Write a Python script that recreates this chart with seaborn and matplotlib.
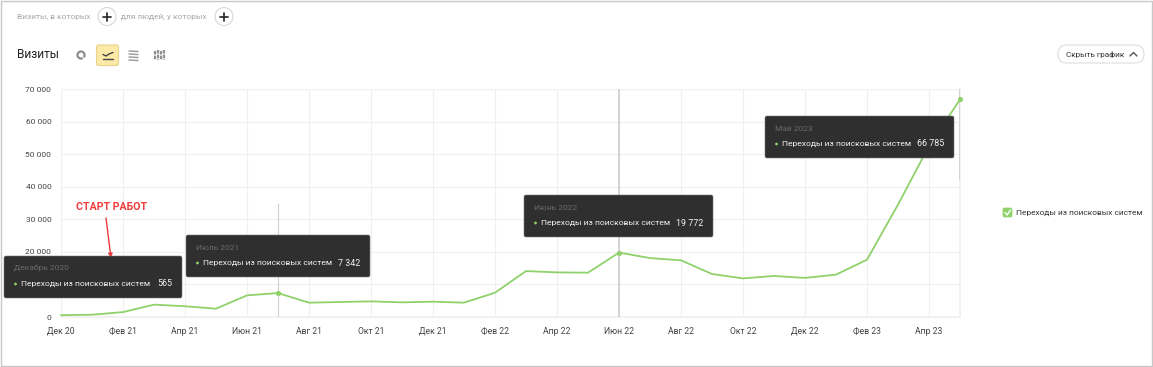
import matplotlib
matplotlib.use("Agg")
import matplotlib.pyplot as plt
import pandas as pd
import seaborn as sns
from matplotlib.patches import Circle, FancyArrowPatch, FancyBboxPatch, Rectangle, Wedge

months = ["Дек 20", "Янв 21", "Фев 21", "Мар 21", "Апр 21", "Май 21", "Июн 21", "Июл 21", "Авг 21", "Сен 21",
          "Окт 21", "Ноя 21", "Дек 21", "Янв 22", "Фев 22", "Мар 22", "Апр 22", "Май 22", "Июн 22", "Июл 22",
          "Авг 22", "Сен 22", "Окт 22", "Ноя 22", "Дек 22", "Янв 23", "Фев 23", "Мар 23", "Апр 23", "Май 23"]
visits = [565, 700, 1500, 3800, 3300, 2550, 6650, 7342, 4400, 4600,
          4800, 4500, 4700, 4400, 7450, 14100, 13700, 13600, 19772, 18100,
          17400, 13200, 11850, 12600, 12000, 13000, 17600, 34500, 52500, 66785]
y_ticks = [0, 10000, 20000, 30000, 40000, 50000, 60000, 70000]

series_name = "Переходы из поисковых систем"
tip_titles = ["Декабрь 2020", "Июль 2021", "Июнь 2022", "Май 2023"]
tip_idx = [0, 7, 18, 29]

GREEN = "#8fd16a"
W, H = 1153, 367

sns.set_theme(style="white")
plt.rcParams["font.family"] = ["Roboto", "DejaVu Sans"]

fig = plt.figure(figsize=(W / 100, H / 100), dpi=100)
ax = fig.add_axes([61 / W, 1 - 317 / H, (960 - 61) / W, (317 - 89) / H])

df = pd.DataFrame({"i": range(len(months)), "visits": visits})
sns.lineplot(data=df, x="i", y="visits", color=GREEN, linewidth=1.3, ax=ax, zorder=4, clip_on=False)
# точка декабря не видна на оригинале, поэтому без первой подсказки
sns.scatterplot(data=df.iloc[tip_idx[1:]], x="i", y="visits", color=GREEN, s=14, linewidth=0, ax=ax, zorder=5, clip_on=False)

# курсоры
ax.vlines(7, 0, 35000, color="#d0d0d0", lw=0.8, zorder=3)
ax.vlines(18, 0, 70000, color="#d4d4d4", lw=1.4, zorder=3)
ax.vlines(29, 42000, 70000, color="#d4d4d4", lw=1.4, zorder=3)

ax.set_xlim(0, 29)
ax.set_ylim(0, 70000)
ax.set_xticks(range(0, 30, 2))
ax.set_xticklabels(months[::2], fontsize=6.2, color="#444444")
ax.set_yticks(y_ticks)
ax.set_yticklabels([f"{v:,}".replace(",", " ") for v in y_ticks], fontsize=6.0, color="#444444")
ax.tick_params(length=0, pad=7)
ax.grid(True, color="#f0f0f0", lw=0.9)
ax.set_axisbelow(True)
ax.set_xlabel("")
ax.set_ylabel("")
for s in ["top", "left"]:
    ax.spines[s].set_visible(False)
for s in ["right", "bottom"]:
    ax.spines[s].set_color("#f0f0f0")

# верхний слой в пикселях картинки
top = fig.add_axes([0, 0, 1, 1], zorder=10)
top.set_xlim(0, W)
top.set_ylim(H, 0)
top.axis("off")
top.patch.set_alpha(0)

top.add_patch(Rectangle((1, 0.5), W - 2.5, H - 2, fill=False, ec="#c8c8c8", lw=1))

top.text(17, 16.5, "Визиты, в которых", fontsize=6.0, color="#a8a8a8", va="center")
top.text(121, 16.5, "для людей, у которых", fontsize=6.0, color="#a8a8a8", va="center")
for cx in [107, 224]:
    top.add_patch(Circle((cx, 16.5), 9, fc="white", ec="#d8d8d8", lw=0.8))
    top.plot([cx - 4, cx + 4], [16.5, 16.5], color="#222222", lw=1.2)
    top.plot([cx, cx], [12.5, 20.5], color="#222222", lw=1.2)

top.text(17, 55, "Визиты", fontsize=8.6, color="#222222", va="center")

# значки переключателя
top.add_patch(Wedge((81, 55), 4.6, 60, 400, width=2.2, fc="#8c8c8c", ec="none"))
top.add_patch(FancyBboxPatch((96.5, 45), 22, 20.5, boxstyle="round,pad=0,rounding_size=2", fc="#fdeaa6", ec="#e9d28c", lw=0.8))
top.plot([103, 106, 109, 113], [54.5, 56, 54, 52.5], color="#444444", lw=1)
top.plot([103, 113], [58.5, 58.5], color="#444444", lw=1)
for y in [51, 54, 57, 60]:
    top.plot([129, 138], [y, y + 0.5], color="#a0a0a0", lw=1.1)
for x, y0 in zip([155, 158, 161, 164], [51, 50, 51, 50]):
    top.plot([x, x], [y0, 60], color="#909090", lw=1.6, ls=(0, (1.6, 0.5)))

top.add_patch(FancyBboxPatch((1058, 45), 86, 18, boxstyle="round,pad=0,rounding_size=9", fc="white", ec="#dddddd", lw=0.8))
top.text(1066, 54, "Скрыть график", fontsize=5.9, color="#333333", va="center")
top.plot([1130, 1133.5, 1137], [56, 52.5, 56], color="#555555", lw=1)

# легенда справа
top.add_patch(FancyBboxPatch((1003, 208), 9, 9, boxstyle="round,pad=0,rounding_size=1.5", fc=GREEN, ec=GREEN, lw=0.5))
top.plot([1005, 1007, 1010.5], [212.5, 215, 210], color="white", lw=1)
top.text(1016, 212.5, series_name, fontsize=6.0, color="#333333", va="center")

# подсказки
tip_boxes = [(4, 256, 178), (186, 235, 184), (524, 195, 189), (765, 116, 189)]
for (x, y, w), title, i in zip(tip_boxes, tip_titles, tip_idx):
    top.add_patch(FancyBboxPatch((x, y), w, 42, boxstyle="round,pad=0,rounding_size=2", fc="#2f2f2f", ec="#777777", lw=0.4, zorder=6))
    top.text(x + 10, y + 13, title, fontsize=6.0, color="#6a6a6a", va="center", zorder=7)
    top.add_patch(Circle((x + 11.5, y + 28), 1.4, fc=GREEN, ec="none", zorder=7))
    top.text(x + 17, y + 28, series_name, fontsize=6.1, color="#f2f2f2", va="center", zorder=7)
    top.text(x + w - 10, y + 28, f"{visits[i]:,}".replace(",", " "), fontsize=6.4, color="#f2f2f2", va="center", ha="right", zorder=7)

top.text(76, 207, "СТАРТ РАБОТ", fontsize=7.6, color="#f03a3a", fontweight="bold", va="center")
top.add_patch(FancyArrowPatch((106, 218), (111, 258), arrowstyle="-|>", mutation_scale=6, color="#f03a3a", lw=1, shrinkA=0, shrinkB=0, zorder=5))

fig.savefig("out.png", dpi=100)
